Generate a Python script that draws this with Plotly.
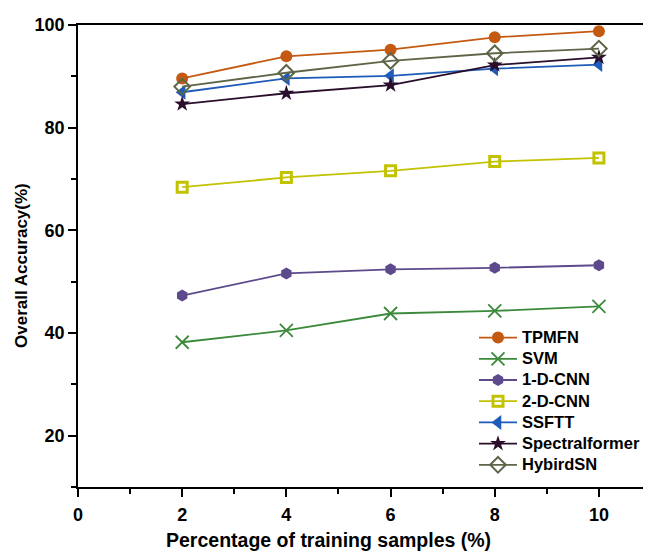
import plotly.graph_objects as go

x_vals = [2, 4, 6, 8, 10]
series_names = ["TPMFN", "SVM", "1-D-CNN", "2-D-CNN", "SSFTT", "Spectralformer", "HybirdSN"]
tpmfn = [89.6, 93.9, 95.2, 97.6, 98.8]
svm = [38.2, 40.5, 43.8, 44.3, 45.2]
cnn1d = [47.3, 51.6, 52.4, 52.7, 53.2]
cnn2d = [68.4, 70.3, 71.6, 73.4, 74.1]
ssftt = [86.9, 89.6, 90.1, 91.5, 92.3]
spectralformer = [84.6, 86.7, 88.3, 92.2, 93.7]
hybirdsn = [88.0, 90.7, 93.0, 94.5, 95.4]
x_ticks = [0, 2, 4, 6, 8, 10]
y_ticks = [20, 40, 60, 80, 100]

data = [tpmfn, svm, cnn1d, cnn2d, ssftt, spectralformer, hybirdsn]
colors = ["#c45a12", "#3b8a3b", "#5d4a8c", "#c2c200", "#1f5bb8", "#2a0d2a", "#5d6647"]
symbols = ["circle", "x-thin-open", "hexagon", "square-open", "triangle-left", "star", "diamond-open"]
sizes = [12, 13, 12, 10, 13, 12, 12]
mlw = [0, 1.8, 0, 3, 0, 0, 2]

fig = go.Figure()
for name, ys, c, s, sz, lw in zip(series_names, data, colors, symbols, sizes, mlw):
    fig.add_trace(go.Scatter(
        x=x_vals, y=ys, name='<span style="font-size:16.5px">' + name + '</span>',
        mode="lines+markers",
        line=dict(color=c, width=1.8),
        marker=dict(symbol=s, size=sz, color=c, line=dict(color=c, width=lw)),
    ))

# page body has an 8px default margin; compensate so plot area sits at 78..651 x 25..487
font_fam = "Arial, Liberation Sans, sans-serif"
fig.update_layout(
    width=643, height=543,
    margin=dict(l=70, r=0, t=17, b=64, autoexpand=False),
    paper_bgcolor="white", plot_bgcolor="white",
    font=dict(family=font_fam, color="black"),
    showlegend=True,
    legend=dict(
        x=(474 - 78) / 573, y=(487 - 322) / 462, xanchor="left", yanchor="top",
        font=dict(family=font_fam, size=14, weight="bold", color="black"),
        bgcolor="rgba(0,0,0,0)", borderwidth=0,
        itemwidth=38, tracegroupgap=0,
    ),
    xaxis=dict(
        range=[0, 11], tickvals=x_ticks, ticks="outside", ticklen=8, tickwidth=1.5,
        tickcolor="black", showline=True, linecolor="black", linewidth=1.5,
        mirror=True, showgrid=False, zeroline=False, automargin=False,
        ticklabelstandoff=3,
        tickfont=dict(family=font_fam, size=18, weight="bold"),
        minor=dict(dtick=1, ticks="outside", ticklen=5, tickwidth=1.5, tickcolor="black", showgrid=False),
    ),
    yaxis=dict(
        range=[10, 100], tickvals=y_ticks, ticks="outside", ticklen=8, tickwidth=1.5,
        tickcolor="black", showline=True, linecolor="black", linewidth=1.5,
        showgrid=False, zeroline=False, automargin=False,
        tickfont=dict(family=font_fam, size=18, weight="bold"),
        minor=dict(tickvals=[10, 30, 50, 70, 90], ticks="outside", ticklen=5, tickwidth=1.5, tickcolor="black", showgrid=False),
    ),
    annotations=[
        dict(text="Percentage of training samples (%)", xref="paper", yref="paper",
             x=(328 - 78) / 573, y=-(540 - 487) / 462, xanchor="center", yanchor="middle",
             showarrow=False, font=dict(family=font_fam, size=19.5, weight="bold", color="black")),
        dict(text="Overall Accuracy(%)", xref="paper", yref="paper",
             x=-(78 - 21) / 573, y=(487 - 266) / 462, xanchor="center", yanchor="middle",
             textangle=-90, showarrow=False,
             font=dict(family=font_fam, size=17, weight="bold", color="black")),
    ],
)

fig.write_html("out.html")
